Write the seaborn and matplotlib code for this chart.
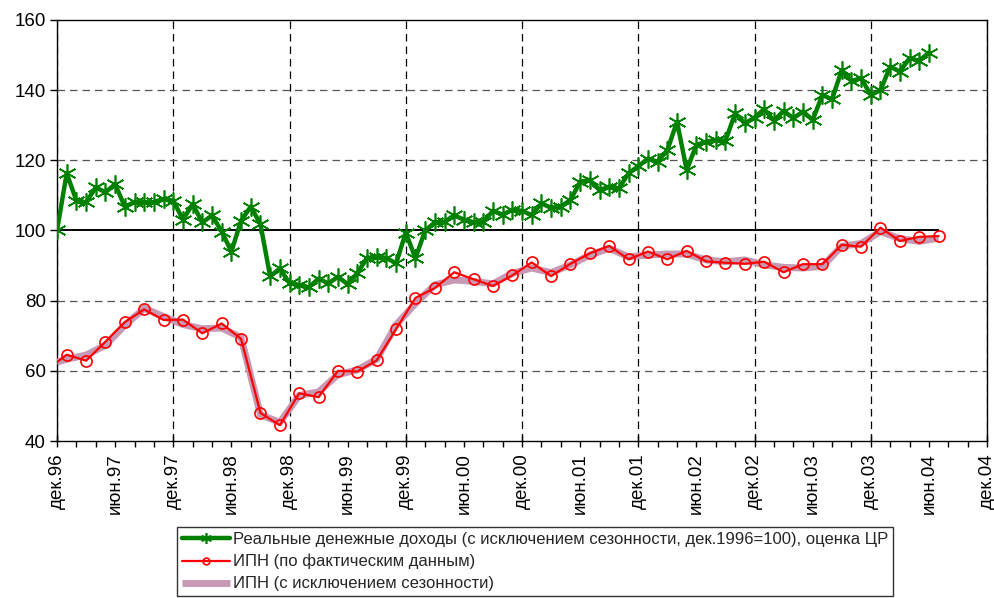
"""
Real money incomes vs. consumer sentiment index (ИПН), dec.1996 - jul.2004.
"""
import matplotlib
matplotlib.use("Agg")
import matplotlib.pyplot as plt
from matplotlib.ticker import FixedLocator, FixedFormatter
import seaborn as sns

# Months counted from dec.96 (0) ...
income_months = list(range(91))
income = [100, 116.3, 108.5, 108, 112.3, 110.9, 113.2, 106.8, 108.1, 108,
          108.1, 109.0, 108.5, 103.1, 107.5, 102.3, 104.3, 99.7, 94.0, 102.8,
          106.8, 101.8, 86.9, 89.2, 85.0, 84.5, 83.8, 86.3, 84.9, 86.8,
          84.7, 87.8, 92.2, 92.5, 92.2, 90.6, 99.4, 92.1, 100, 102.3,
          102.5, 104.3, 103.1, 102.3, 102.5, 105.6, 104.5, 105.9, 105.6, 104.4,
          107.7, 106.5, 106.8, 108.7, 113.9, 114.4, 111.5, 112.5, 112.0, 116.3,
          118.3, 120.5, 119.6, 122.9, 131.0, 117.2, 124.4, 125.3, 125.8, 125.6,
          133.4, 130.5, 132.2, 134.6, 131.3, 134.1, 132, 133.9, 131.5, 138.6,
          137.4, 145.7, 142.6, 143.4, 138.6, 140.0, 146.7, 145.3, 149.1, 148.4,
          150.7]

# ИПН: dec.96, then every second month from jan.97
ipn_months = [0] + list(range(1, 92, 2))
ipn_actual = [62.5, 64.6, 62.9, 68.3, 73.9, 77.5, 74.5, 74.6, 70.7, 73.5,
              69.1, 48.0, 44.5, 53.6, 52.5, 60.0, 59.8, 63.0, 71.9, 80.8,
              83.6, 88.1, 86.1, 84.2, 87.2, 90.9, 87.0, 90.5, 93.5, 95.6,
              91.8, 94.0, 91.8, 94.2, 91.2, 90.8, 90.5, 91.1, 88.1, 90.4,
              90.4, 95.9, 95.4, 100.8, 97.0, 98.2, 98.4]
ipn_sa = [62.5, 63.3, 64.5, 67.3, 73.0, 77.8, 75.5, 73.2, 72.0, 72.2,
          69.5, 47.5, 45.3, 53.0, 54.0, 58.9, 60.3, 63.3, 73.1, 79.2,
          84.5, 85.9, 85.5, 84.8, 87.8, 89.3, 88.0, 90.2, 93.0, 94.9,
          92.5, 93.0, 93.3, 93.3, 91.6, 91.1, 91.6, 90.2, 89.5, 89.3,
          89.8, 95.5, 96.3, 99.7, 97.7, 96.9, 97.8]

label_months = [0, 6, 12, 18, 24, 30, 36, 42, 48, 54, 60, 66, 72, 78, 84, 90, 96]
label_text = ["дек.96", "июн.97", "дек.97", "июн.98", "дек.98", "июн.99",
              "дек.99", "июн.00", "дек.00", "июн.01", "дек.01", "июн.02",
              "дек.02", "июн.03", "дек.03", "июн.04", "дек.04"]

legend_labels = [
    "Реальные денежные доходы (с исключением сезонности, дек.1996=100), оценка ЦР",
    "ИПН (по фактическим данным)",
    "ИПН (с исключением сезонности)",
]

sns.set_style("ticks")
plt.rcParams["font.family"] = ["Liberation Sans", "DejaVu Sans"]

fig = plt.figure(figsize=(9.95, 5.98), dpi=100)
ax = fig.add_axes([0.0573, 0.2625, 0.9347, 0.7041])

# reference level 100 over the observed period
ax.hlines(100, ipn_months[0], ipn_months[-1], color="black", lw=1.4, zorder=2)

sns.lineplot(x=ipn_months, y=ipn_sa, ax=ax, color="#C899B4", lw=5,
             label=legend_labels[2], zorder=3, solid_capstyle="butt")
sns.lineplot(x=ipn_months, y=ipn_actual, ax=ax, color="#FF0000", lw=1.6,
             marker="o", ms=8, mfc="none", mec="#FF0000", mew=1.2,
             markevery=list(range(1, len(ipn_months))),
             label=legend_labels[1], zorder=4)
sns.lineplot(x=income_months, y=income, ax=ax, color="#008000", lw=3.2,
             marker=(6, 2, 0), ms=13, mec="#008000", mew=1.2,
             label=legend_labels[0], zorder=5)

ax.set_xlim(0, 96)
ax.set_ylim(40, 160)
ax.set_yticks(range(40, 161, 20))

# major ticks at every December, minor every 2 months
ax.xaxis.set_major_locator(FixedLocator([m for m in label_months if m % 12 == 0]))
ax.xaxis.set_major_formatter(FixedFormatter([t for m, t in zip(label_months, label_text) if m % 12 == 0]))
minor = [m for m in range(2, 96, 2) if m % 12 != 0]
minor_lbl = [label_text[label_months.index(m)] if m in label_months else "" for m in minor]
ax.xaxis.set_minor_locator(FixedLocator(minor))
ax.xaxis.set_minor_formatter(FixedFormatter(minor_lbl))

ax.tick_params(axis="x", which="major", direction="inout", length=8, width=1,
               pad=5, labelrotation=90, labelsize=13.5, colors="black")
ax.tick_params(axis="x", which="minor", direction="out", length=4, width=1,
               pad=5, labelrotation=90, labelsize=13.5, colors="black")
ax.tick_params(axis="y", direction="out", length=5, width=1, labelsize=13.5,
               colors="black", pad=3)

ax.grid(False)
for y in (60, 80, 120, 140):
    ax.axhline(y, color="#555555", lw=0.9, ls=(0, (6, 4)), zorder=1)
ax.xaxis.grid(True, which="major", color="black", lw=0.9, ls=(0, (6, 4)))

for s in ax.spines.values():
    s.set_visible(True)
    s.set_color("black")
    s.set_linewidth(1.0)

handles, labels = ax.get_legend_handles_labels()
order = [labels.index(l) for l in legend_labels]
leg = fig.legend([handles[i] for i in order], [labels[i] for i in order],
                 loc="upper left", bbox_to_anchor=(0.178, 0.119),
                 fontsize=12, frameon=True, fancybox=False, edgecolor="black",
                 handlelength=2.9, handletextpad=0.15, borderpad=0.3,
                 labelspacing=0.42, borderaxespad=0, markerscale=0.6)
leg.get_frame().set_linewidth(1.0)
if ax.get_legend():
    ax.get_legend().remove()

fig.savefig("out.png", dpi=100)
